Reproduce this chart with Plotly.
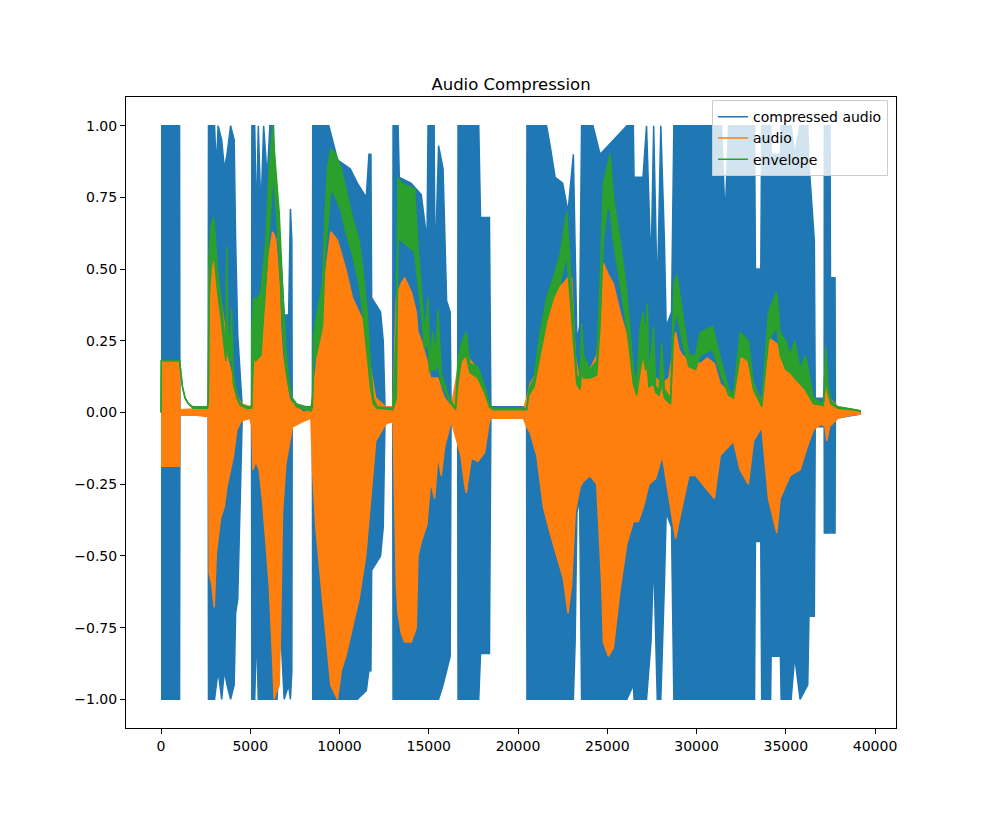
import plotly.graph_objects as go

# ---- compressed audio: sample index, upper / lower extent ----
blue_x = [0, 1040, 1060, 2640,
          2660, 3000, 3100, 3200, 3400, 3550, 3700, 3900, 4100, 4180, 4300, 4450, 4550, 5070,
          5090, 5250, 5350, 5450, 5600, 5750, 5950, 6100, 6300, 6500, 6700, 6900, 7150, 7250, 7330, 7350, 8480,
          8500, 9400, 9900, 10600, 11000, 11500, 11650, 11760, 11800, 12300, 12450, 12550, 12980,
          13000, 13280, 13350, 14000, 14580, 14900, 14960, 15300, 15350, 15550, 15800, 16000, 16200, 16250, 16620,
          16640, 17800, 17900, 18400, 18480, 20480,
          20500, 21600, 21800, 22080, 22500, 22800, 23100, 23200, 23300, 23450, 23560, 24200, 24600, 26100,
          26460, 26500, 27000, 27200, 27450, 27600, 27800, 28000, 28200, 28300, 28600, 28730, 31400, 31600,
          31800, 33100, 33250, 33300, 33600, 33650, 34150, 34180, 34700, 34740, 35300, 35500, 35800, 36230,
          36300, 36600, 36650, 37150, 37160, 37480, 37520, 37570, 37760, 37780, 39214]
blue_hi = [1, 1, 0.01, 0.01,
           1, 1, 0.85, 1, 0.95, 0.85, 0.9, 1.0, 0.95, 0.6, 0.27, 0.1, 0.02, 0.02,
           1, 1, 0.65, 1, 0.7, 1, 0.82, 1, 1, 0.6, 0.55, 0.34, 0.34, 0.71, 0.6, 0.02, 0.02,
           1, 1, 0.88, 0.85, 0.8, 0.75, 0.9, 0.9, 0.4, 0.35, 0.25, 0.02, 0.02,
           1, 1, 0.82, 0.8, 0.76, 0.6, 1, 1, 0.5, 0.93, 0.85, 0.39, 0.35, 0.02, 0.02,
           1, 1, 0.68, 0.68, 0.02, 0.02,
           1, 1, 0.93, 0.82, 0.8, 0.7, 0.9, 0.6, 0.25, 0.3, 1, 1, 0.9, 1,
           1, 0.82, 0.82, 1, 0.5, 1, 0.4, 1, 0.6, 0.3, 0.35, 1, 1, 0.68,
           1, 1, 1, 0.5, 0.5, 1, 1, 0.9, 0.9, 1, 1, 0.9, 1, 1,
           0.87, 0.6, 0.05, 0.05, 1, 1, 0.05, 0.47, 0.47, 0.02, 0.005]
blue_lo = [-1, -1, -0.01, -0.01,
           -1, -1, -0.95, -0.9, -1, -0.9, -0.95, -1, -0.95, -0.7, -0.65, -0.2, -0.02, -0.02,
           -1, -1, -0.75, -1, -1, -1, -1, -1, -1, -1, -0.75, -1, -0.95, -1, -0.9, -0.02, -0.02,
           -1, -1, -1, -1, -1, -0.97, -0.9, -0.9, -0.55, -0.5, -0.4, -0.02, -0.02,
           -1, -1, -1, -1, -1, -1, -1, -1, -1, -1, -0.95, -0.9, -0.85, -0.02, -0.02,
           -1, -1, -0.84, -0.84, -0.02, -0.02,
           -1, -1, -1, -1, -1, -1, -1, -0.8, -0.35, -0.3, -1, -1, -1, -1,
           -0.95, -1, -1, -1, -0.8, -0.5, -1, -1, -0.6, -0.35, -0.4, -1, -1, -1,
           -1, -1, -1, -0.45, -0.45, -1, -1, -0.85, -0.85, -1, -1, -0.85, -1, -0.95,
           -0.71, -0.71, -0.05, -0.05, -0.42, -0.42, -0.05, -0.42, -0.42, -0.02, -0.005]

# ---- audio ----
aud_x = [0, 1040, 1050, 2000, 2640,
         2660, 2700, 2850, 2980, 3100, 3330, 3540, 3690, 3900, 4060, 4250, 4500, 5000,
         5090, 5150, 5314, 5500, 5690, 5873, 6060, 6246, 6339, 6433, 6619, 6700, 6806, 6992, 7179, 7365, 8000, 8400,
         8486, 8673, 9046, 9324, 9511, 9884, 10100, 10350, 10723, 11096, 11469, 11748, 12028, 12587,
         12997, 13183, 13276, 13462, 13649, 14022, 14300, 14395, 14582, 14900, 15100, 15328, 15514, 15700, 15887, 16260,
         16633, 16800, 17006, 17100, 17379, 17752, 18125, 18400, 18498, 20300,
         20492, 20679, 21052, 21425, 21798, 22171, 22544, 22800, 23000, 23200, 23476, 23663, 24036, 24409, 24688,
         24781, 25061, 25341, 25714, 26087, 26460, 26740, 27019,
         27336, 27709, 28082, 28455, 28828, 29015, 29201, 29574, 29947,
         30208, 30600, 31000, 31326, 31800, 32072, 32445, 32900, 33191, 33657, 34030, 34496, 34683, 35242,
         35802, 36200, 36548, 37000, 37200, 37300, 37450, 37908, 38654, 39214]
aud_hi = [0.18, 0.18, 0.01, 0.012, 0.015,
          0.02, 0.5, 0.55, 0.6, 0.5, 0.4, 0.31, 0.2, 0.15, 0.11, 0.06, 0.03, 0.02,
          0.03, 0.2, 0.18, 0.2, 0.25, 0.4, 0.55, 0.63, 0.62, 0.6, 0.45, 0.3, 0.2, 0.12, 0.05, 0.03, 0.0, 0.01,
          0.05, 0.15, 0.4, 0.55, 0.63, 0.6, 0.55, 0.5, 0.4, 0.35, 0.3, 0.15, 0.05, 0.02,
          0.02, 0.4, 0.42, 0.45, 0.47, 0.42, 0.35, 0.28, 0.25, 0.18, 0.12, 0.12, 0.12, 0.08, 0.05, 0.02,
          0.15, 0.18, 0.24, 0.2, 0.18, 0.15, 0.08, 0.02, 0.01, 0.01,
          0.05, 0.1, 0.14, 0.28, 0.4, 0.43, 0.45, 0.47, 0.47, 0.2, 0.1, 0.15, 0.15, 0.2, 0.35,
          0.52, 0.48, 0.45, 0.35, 0.27, 0.12, 0.12, 0.2,
          0.15, 0.12, 0.1, 0.12, 0.28, 0.22, 0.2, 0.18, 0.18,
          0.17, 0.19, 0.17, 0.1, 0.07, 0.06, 0.19, 0.19, 0.1, 0.03, 0.26, 0.24, 0.2, 0.15,
          0.1, 0.06, 0.03, 0.03, 0.04, 0.1, 0.05, 0.02, 0.012, 0.005]
aud_lo = [-0.187, -0.187, -0.01, -0.01, -0.015,
          -0.02, -0.56, -0.6, -0.68, -0.49, -0.37, -0.33, -0.26, -0.2, -0.15, -0.06, -0.03, -0.02,
          -0.05, -0.2, -0.17, -0.2, -0.31, -0.45, -0.6, -0.85, -1.0, -0.98, -0.95, -0.75, -0.35, -0.18, -0.12, -0.05, -0.03, -0.02,
          -0.2, -0.4, -0.65, -0.82, -0.95, -1.0, -0.9, -0.85, -0.75, -0.65, -0.5, -0.3, -0.1, -0.04,
          -0.03, -0.6, -0.7, -0.77, -0.8, -0.8, -0.75, -0.5, -0.45, -0.39, -0.24, -0.3, -0.15, -0.22, -0.12, -0.03,
          -0.12, -0.15, -0.25, -0.28, -0.16, -0.17, -0.14, -0.03, -0.02, -0.02,
          -0.05, -0.07, -0.15, -0.33, -0.42, -0.5, -0.58, -0.7, -0.6, -0.35, -0.26, -0.24, -0.22, -0.25, -0.6,
          -0.8, -0.85, -0.82, -0.62, -0.46, -0.38, -0.38, -0.33,
          -0.25, -0.23, -0.15, -0.3, -0.44, -0.38, -0.33, -0.22, -0.22,
          -0.24, -0.27, -0.3, -0.15, -0.12, -0.1, -0.2, -0.25, -0.1, -0.05, -0.3, -0.42, -0.3, -0.22,
          -0.2, -0.12, -0.06, -0.04, -0.05, -0.1, -0.05, -0.02, -0.01, -0.005]

# ---- envelope ----
env_x = [0, 15, 1040, 1100, 1200, 1350, 1550, 1800, 2600,
         2650, 2700, 2800, 2950, 3050, 3170, 3356, 3540, 3630, 3680, 3750, 3880, 3950, 4060, 4250, 4450, 4800, 5080,
         5090, 5200, 5314, 5600, 5873, 6060, 6246, 6339, 6500, 6619, 6806, 6992, 7179, 7365, 7600, 8200, 8400,
         8486, 8550, 8700, 9046, 9200, 9324, 9511, 9791, 10100, 10350, 10723, 11096, 11300, 11550, 11748, 11900, 12100, 12990,
         13183, 13276, 13462, 13800, 14208, 14395, 14582, 14770, 14955, 15050, 15230, 15400, 15514, 15700, 15887, 16150, 16500,
         16633, 16820, 17099, 17300, 17752, 18125, 18400, 18600, 20490,
         20600, 20900, 21240, 21612, 21985, 22357, 22730, 22917, 23103, 23290, 23476, 23570, 23663, 24036, 24409,
         24595, 24781, 24968, 25154, 25341, 25714, 26087, 26460, 26650, 26850, 27019,
         27150, 27250, 27336, 27600, 27709, 27900, 28050, 28200, 28550, 28733, 28900, 29200, 29574, 29947,
         30208, 30900, 31326, 31800, 32072, 32445, 32900, 33191, 33657, 34030, 34496, 34683, 35000,
         35242, 35500, 35802, 36100, 36548, 37100, 37250, 37350, 37535, 37908, 38654, 39214]
env_hi = [0, 0.18, 0.18, 0.14, 0.09, 0.05, 0.03, 0.02, 0.02,
          0.05, 0.55, 0.65, 0.68, 0.6, 0.5, 0.4, 0.28, 0.22, 0.58, 0.3, 0.22, 0.36, 0.13, 0.06, 0.03, 0.02, 0.02,
          0.3, 0.4, 0.39, 0.42, 0.6, 0.85, 1.0, 0.92, 0.8, 0.7, 0.45, 0.22, 0.1, 0.05, 0.03, 0.02, 0.015,
          0.05, 0.27, 0.33, 0.45, 0.7, 0.85, 0.92, 0.9, 0.85, 0.78, 0.68, 0.6, 0.5, 0.35, 0.15, 0.05, 0.02, 0.015,
          0.3, 0.82, 0.8, 0.79, 0.78, 0.58, 0.42, 0.28, 0.4, 0.18, 0.28, 0.2, 0.36, 0.14, 0.1, 0.05, 0.015,
          0.18, 0.24, 0.28, 0.17, 0.16, 0.09, 0.03, 0.015, 0.015,
          0.08, 0.12, 0.28, 0.4, 0.47, 0.55, 0.7, 0.5, 0.32, 0.13, 0.12, 0.31, 0.2, 0.15, 0.18,
          0.45, 0.8, 0.85, 0.9, 0.75, 0.6, 0.42, 0.15, 0.1, 0.3, 0.35,
          0.25, 0.38, 0.12, 0.3, 0.09, 0.08, 0.24, 0.08, 0.05, 0.45, 0.48, 0.35, 0.2, 0.2,
          0.28, 0.3, 0.19, 0.08, 0.06, 0.28, 0.25, 0.1, 0.03, 0.35, 0.42, 0.28, 0.25,
          0.2, 0.25, 0.15, 0.2, 0.05, 0.03, 0.23, 0.1, 0.04, 0.02, 0.012, 0.005]
env_lo = [0, 0.18, 0.18, 0.14, 0.09, 0.05, 0.03, 0.015, 0.015,
          0.04, 0.4, 0.5, 0.55, 0.5, 0.42, 0.33, 0.22, 0.18, 0.3, 0.2, 0.18, 0.2, 0.1, 0.05, 0.025, 0.015, 0.015,
          0.05, 0.2, 0.18, 0.2, 0.45, 0.65, 0.8, 0.8, 0.65, 0.55, 0.3, 0.15, 0.08, 0.04, 0.02, 0.01, 0.005,
          0.02, 0.18, 0.2, 0.3, 0.55, 0.65, 0.78, 0.75, 0.7, 0.63, 0.55, 0.45, 0.35, 0.2, 0.08, 0.03, 0.015, 0.01,
          0.05, 0.6, 0.6, 0.58, 0.56, 0.45, 0.35, 0.22, 0.25, 0.14, 0.15, 0.15, 0.18, 0.1, 0.08, 0.04, 0.01,
          0.1, 0.18, 0.2, 0.14, 0.12, 0.07, 0.02, 0.01, 0.01,
          0.06, 0.09, 0.2, 0.32, 0.4, 0.45, 0.55, 0.4, 0.25, 0.1, 0.08, 0.15, 0.12, 0.12, 0.13,
          0.3, 0.6, 0.7, 0.72, 0.6, 0.45, 0.3, 0.1, 0.06, 0.15, 0.2,
          0.15, 0.15, 0.09, 0.1, 0.07, 0.06, 0.1, 0.05, 0.03, 0.3, 0.35, 0.25, 0.16, 0.15,
          0.2, 0.22, 0.14, 0.06, 0.05, 0.2, 0.18, 0.08, 0.02, 0.25, 0.3, 0.2, 0.15,
          0.14, 0.12, 0.1, 0.08, 0.03, 0.025, 0.12, 0.07, 0.03, 0.015, 0.01, 0.004]

assert len(blue_x) == len(blue_hi) == len(blue_lo)
assert len(aud_x) == len(aud_hi) == len(aud_lo)
assert len(env_x) == len(env_hi) == len(env_lo)

x_ticks = [0, 5000, 10000, 15000, 20000, 25000, 30000, 35000, 40000]
y_ticks = [-1.0, -0.75, -0.5, -0.25, 0.0, 0.25, 0.5, 0.75, 1.0]

BLUE, ORANGE, GREEN = "#1f77b4", "#ff7f0e", "#2ca02c"

fig = go.Figure()


def add_band(name, xs, hi, lo, color):
    fig.add_trace(go.Scatter(x=xs, y=hi, mode="lines", name=name, legendgroup=name,
                             line=dict(color=color, width=1.5), hoverinfo="skip"))
    fig.add_trace(go.Scatter(x=xs, y=lo, mode="lines", name=name, legendgroup=name,
                             showlegend=False, fill="tonexty", fillcolor=color,
                             line=dict(color=color, width=1.5), hoverinfo="skip"))


add_band("compressed audio", blue_x, blue_hi, blue_lo, BLUE)
add_band("audio", aud_x, aud_hi, aud_lo, ORANGE)
add_band("envelope", env_x, env_hi, env_lo, GREEN)

n_max = max(blue_x)
pad = 0.05 * n_max
fig.update_layout(
    width=996, height=819,
    margin=dict(l=126, r=100, t=97, b=91),
    paper_bgcolor="white", plot_bgcolor="white",
    font=dict(family="DejaVu Sans", size=14, color="black"),
    title=dict(text="Audio Compression", x=0.5, xref="paper", xanchor="center",
               y=1 - 84 / 819, yref="container", yanchor="middle",
               font=dict(size=16.5, color="black")),
    showlegend=True,
    legend=dict(x=0.9896, y=0.995, xanchor="right", yanchor="top",
                bgcolor="rgba(255,255,255,0.8)", bordercolor="#cccccc", borderwidth=1,
                font=dict(size=14), tracegroupgap=0, itemwidth=30),
    xaxis=dict(range=[-pad, n_max + pad], tickvals=x_ticks, ticktext=[str(v) for v in x_ticks],
               ticks="outside", ticklen=5, tickcolor="black", showline=True, linecolor="black",
               linewidth=1, mirror=True, showgrid=False, zeroline=False),
    yaxis=dict(range=[-1.1, 1.1], tickvals=y_ticks, ticktext=[f"{v:.2f}".replace("-", "\u2212") for v in y_ticks],
               ticks="outside", ticklen=5, tickcolor="black", showline=True, linecolor="black",
               linewidth=1, mirror=True, showgrid=False, zeroline=False),
)

fig.write_html("out.html")
